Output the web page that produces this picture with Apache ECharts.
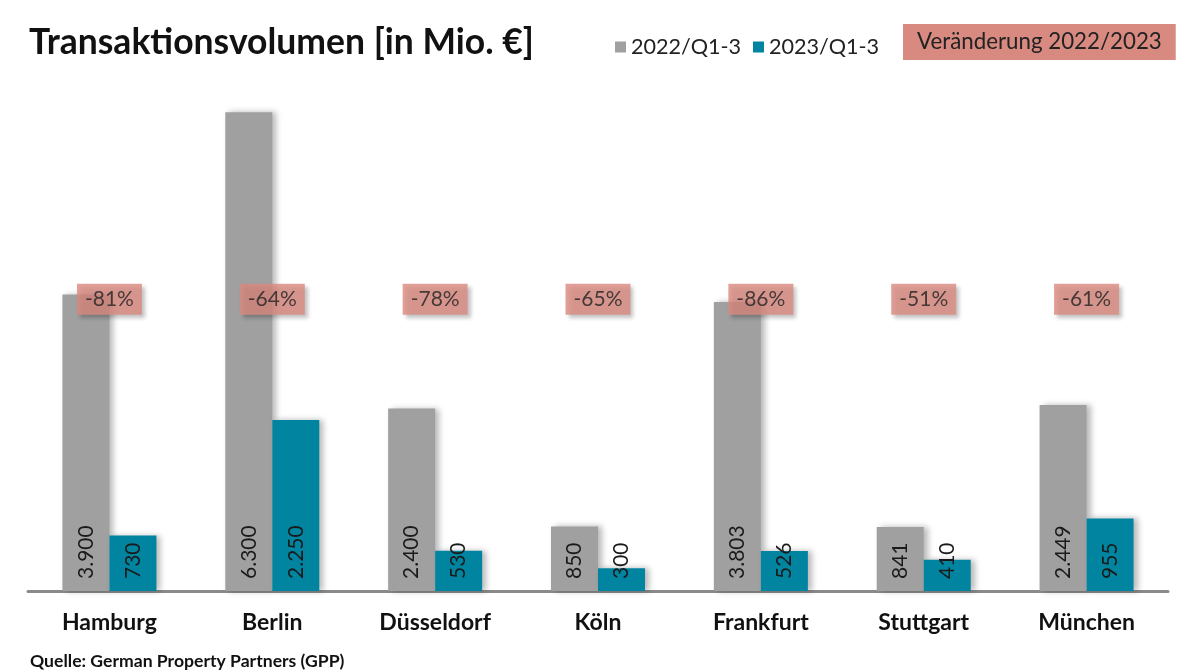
<!DOCTYPE html>
<html><head><meta charset="utf-8">
<script src="https://cdn.jsdelivr.net/npm/echarts@6/dist/echarts.min.js"></script>
<style>html,body{margin:0;padding:0;background:#fff}#c{width:1200px;height:672px}</style>
</head><body><div id="c"></div>
<script>
const categories = ['Hamburg','Berlin','Düsseldorf','Köln','Frankfurt','Stuttgart','München'];
const values2022 = [3900, 6300, 2400, 850, 3803, 841, 2449];
const values2023 = [730, 2250, 530, 300, 526, 410, 955];
const changeLabels = ['-81%','-64%','-78%','-65%','-86%','-51%','-61%'];
const seriesNames = ['2022/Q1-3','2023/Q1-3'];
const changeTitle = 'Veränderung 2022/2023';
const FONT = 'Lato';
const fmt = v => v.toLocaleString('de-DE');
const chart = echarts.init(document.getElementById('c'));
const barLabel = {
  show: true, position: 'insideBottom', rotate: 90, align: 'left', verticalAlign: 'middle',
  distance: 12, fontSize: 21, color: '#1a1a1a', fontFamily: FONT,
  formatter: p => fmt(p.value)
};
const shadow = {shadowBlur: 6, shadowOffsetX: 4, shadowOffsetY: 0, shadowColor: 'rgba(0,0,0,0.28)'};
chart.setOption({
  animation: false,
  title: [
    {text: 'Transak\u200Ctionsvolumen [in Mio. €]', left: 24, top: 20,
     textStyle: {fontFamily: FONT, fontWeight: 'bold', fontSize: 35.5, color: '#111'}},
    {text: changeTitle, left: 903, top: 24, padding: [6, 14, 6, 14], backgroundColor: '#d98a80',
     textStyle: {fontFamily: FONT, fontWeight: 'normal', fontSize: 22.3, color: '#222', lineHeight: 24}},
    {text: 'Quelle: German Property Partners (GPP)', left: 25, top: 647,
     textStyle: {fontFamily: FONT, fontWeight: 'bold', fontSize: 17.6, color: '#111'}}
  ],
  legend: {
    data: seriesNames, left: 610, top: 31, itemWidth: 11, itemHeight: 11, itemGap: 12,
    icon: 'rect', textStyle: {fontFamily: FONT, fontSize: 21.6, color: '#222'}
  },
  grid: {left: 28, right: 32, top: 59, bottom: 81},
  xAxis: {
    type: 'category', data: categories,
    axisLine: {lineStyle: {color: '#8a8a8a', width: 3}},
    axisTick: {show: false},
    axisLabel: {fontFamily: FONT, fontWeight: 'bold', fontSize: 23, color: '#111', margin: 20}
  },
  yAxis: {type: 'value', min: 0, max: 7000, show: false, splitLine: {show: false}},
  series: [
    {name: seriesNames[0], type: 'bar', data: values2022, barWidth: 47, barGap: '0%',
     itemStyle: Object.assign({color: '#a0a0a0'}, shadow), label: barLabel, z: 2},
    {name: seriesNames[1], type: 'bar', data: values2023, barWidth: 47,
     itemStyle: Object.assign({color: '#00849f'}, shadow), label: barLabel, z: 2},
    {name: 'change', type: 'scatter', symbolSize: 0, z: 10,
     data: changeLabels.map(() => 3840),
     label: {show: true, position: 'inside', formatter: p => changeLabels[p.dataIndex],
       backgroundColor: '#d98a80', padding: [5, 8, 5, 8], fontFamily: FONT, fontSize: 21, color: '#222',
       shadowBlur: 4, shadowOffsetX: 3, shadowOffsetY: 3, shadowColor: 'rgba(0,0,0,0.3)'}}
  ]
});
</script></body></html>
